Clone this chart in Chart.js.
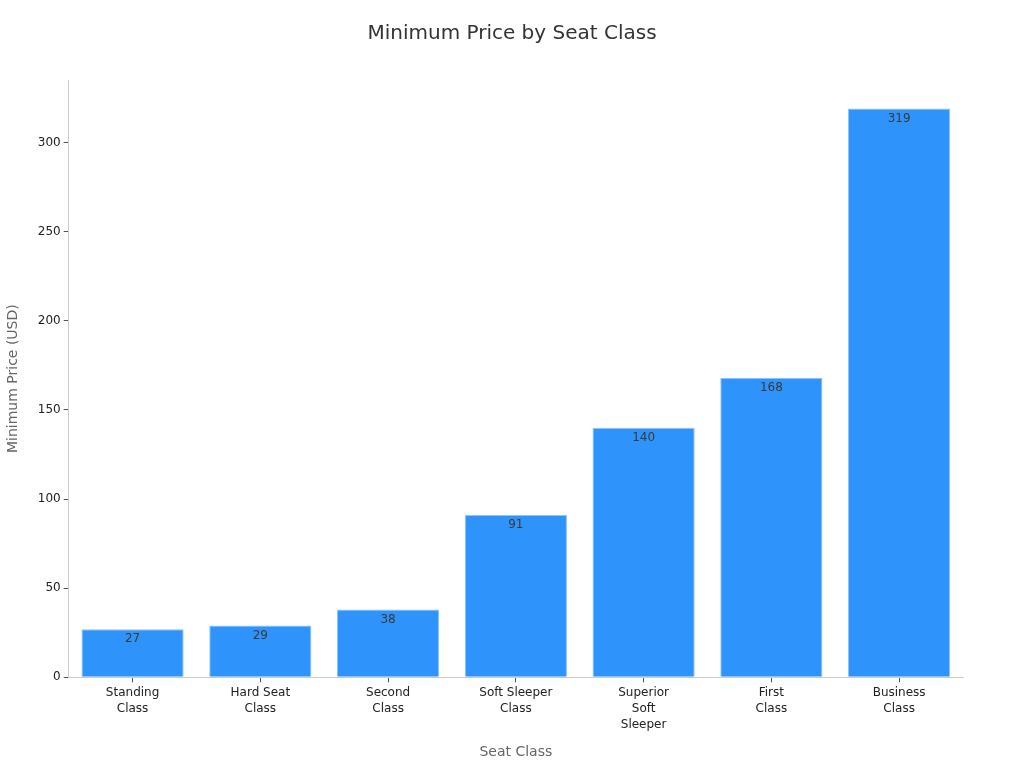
<!DOCTYPE html>
<html>
<head>
<meta charset="utf-8">
<script src="https://cdn.jsdelivr.net/npm/chart.js@4"></script>
<style>
  html, body { margin: 0; padding: 0; background: #fff; }
</style>
</head>
<body>
<canvas id="priceChart" width="1024" height="768"></canvas>
<script>
// seat classes and their minimum prices
const categories = [
    ['Standing', 'Class'],
    ['Hard Seat', 'Class'],
    ['Second', 'Class'],
    ['Soft Sleeper', 'Class'],
    ['Superior', 'Soft', 'Sleeper'],
    ['First', 'Class'],
    ['Business', 'Class']
];
const minPrices = [27, 29, 38, 91, 140, 168, 319];
const yTicks = [0, 50, 100, 150, 200, 250, 300];
const chartTitle = 'Minimum Price by Seat Class';

// value labels just inside the top of each bar + centred page title
const valueLabels = {
    id: 'valueLabels',
    afterDatasetsDraw(chart) {
        const ctx = chart.ctx;
        const meta = chart.getDatasetMeta(0);
        ctx.save();
        ctx.font = '12px "DejaVu Sans"';
        ctx.fillStyle = '#3a3a3a';
        ctx.textAlign = 'center';
        ctx.textBaseline = 'top';
        meta.data.forEach((bar, i) => {
            ctx.fillText(minPrices[i], bar.x, bar.y + 4);
        });
        // title centred on the whole canvas
        ctx.font = '20px "DejaVu Sans"';
        ctx.fillStyle = '#333';
        ctx.textBaseline = 'middle';
        ctx.fillText(chartTitle, chart.width / 2, 34);
        ctx.restore();
    }
};

const ctx = document.getElementById('priceChart').getContext('2d');
new Chart(ctx, {
    type: 'bar',
    data: {
        labels: categories,
        datasets: [{
            label: 'Minimum Price (USD)',
            data: minPrices,
            backgroundColor: '#2E93FA',
            borderColor: '#8FC3F7',
            borderWidth: 1,
            barPercentage: 0.8,
            categoryPercentage: 1.0
        }]
    },
    options: {
        responsive: false,
        animation: false,
        layout: {
            padding: { top: 80, right: 61, bottom: 7, left: 1 }
        },
        scales: {
            x: {
                grid: {
                    offset: false,
                    drawOnChartArea: false,
                    drawTicks: true,
                    tickLength: 5,
                    color: '#ccc',
                    tickColor: '#555'
                },
                border: { color: '#ccc' },
                ticks: {
                    color: '#222',
                    padding: 3,
                    font: { family: 'DejaVu Sans', size: 12, lineHeight: 1.33 },
                    maxRotation: 0,
                    autoSkip: false
                },
                title: {
                    display: true,
                    text: 'Seat Class',
                    color: '#666',
                    font: { family: 'DejaVu Sans', size: 14 },
                    padding: { top: 8, bottom: 0 }
                }
            },
            y: {
                min: 0,
                max: 335,
                afterBuildTicks(axis) {
                    axis.ticks = yTicks.map(v => ({ value: v }));
                },
                grid: {
                    drawOnChartArea: false,
                    drawTicks: true,
                    tickLength: 5,
                    color: '#ccc',
                    tickColor: '#555'
                },
                border: { color: '#ccc' },
                ticks: {
                    color: '#222',
                    padding: 3,
                    font: { family: 'DejaVu Sans', size: 12 }
                },
                title: {
                    display: true,
                    text: 'Minimum Price (USD)',
                    color: '#666',
                    font: { family: 'DejaVu Sans', size: 14 },
                    padding: { bottom: 13 }
                }
            }
        },
        plugins: {
            legend: { display: false },
            tooltip: { enabled: false },
            title: { display: false }
        }
    },
    plugins: [valueLabels]
});
</script>
</body>
</html>
